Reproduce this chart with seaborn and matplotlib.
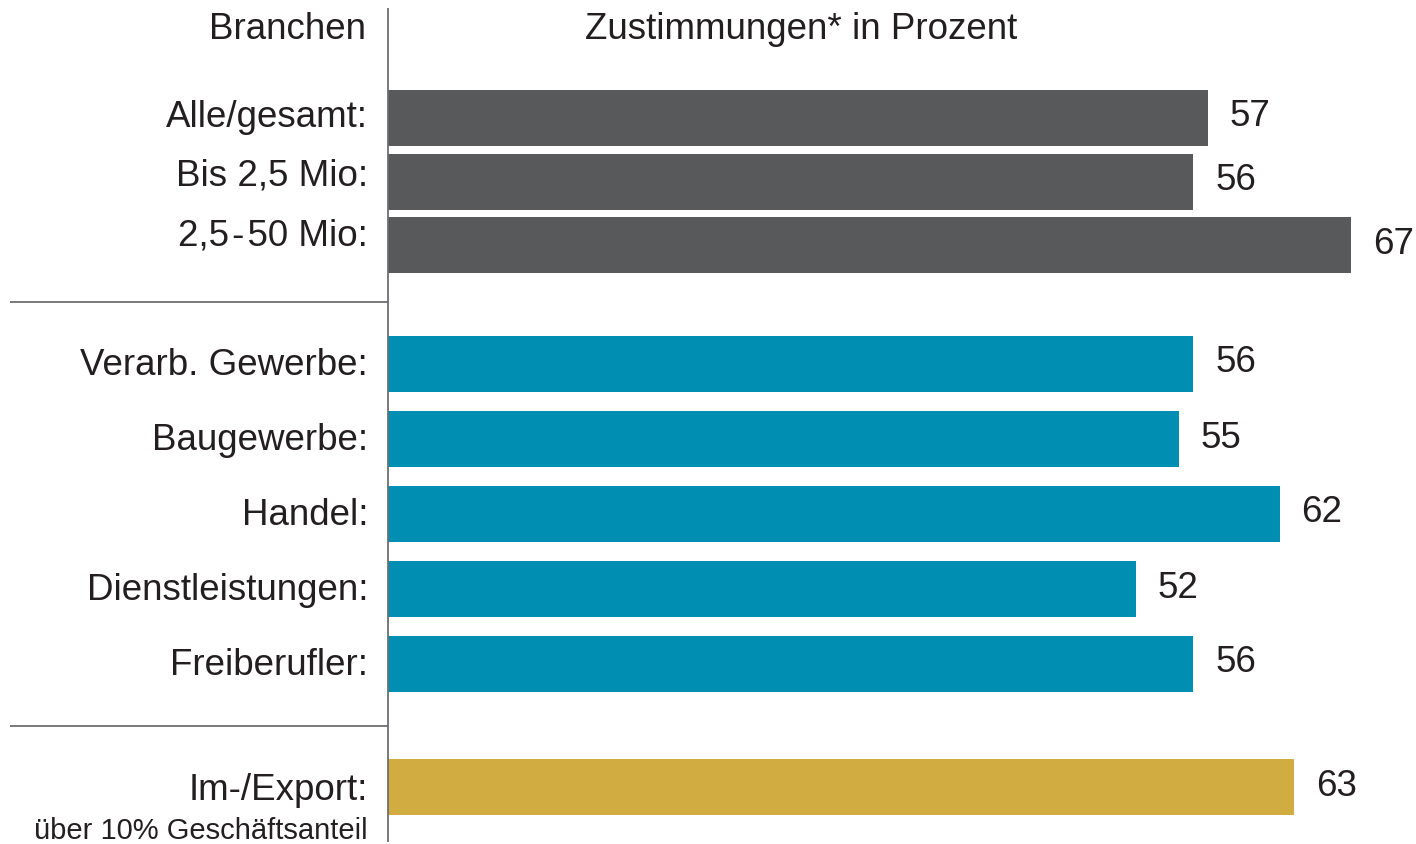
import pandas as pd
import seaborn as sns
import matplotlib.pyplot as plt

# data
labels = [
    "Alle/gesamt:",
    "Bis 2,5 Mio:",
    "2,5\u200a-\u200a50 Mio:",
    "Verarb. Gewerbe:",
    "Baugewerbe:",
    "Handel:",
    "Dienstleistungen:",
    "Freiberufler:",
    "Im-/Export:",
]
values = [57, 56, 67, 56, 55, 62, 52, 56, 63]
groups = ["gesamt"] * 3 + ["branche"] * 5 + ["export"]

header_left = "Branchen"
header_right = "Zustimmungen* in Prozent"
footnote = "über 10% Geschäftsanteil"

# layout in pixel rows (y grows downward)
row_pos = [118, 182, 245, 364, 439, 514, 589, 664, 787]
label_base = [127, 186, 246, 375, 450, 525, 600, 675, 800]
palette = {"gesamt": "#58595b", "branche": "#008fb3", "export": "#d1ac40"}

W, H = 1416, 844
x0 = 388  # pixel where bars start
px = 14.38  # pixels per percent
fs = 26.5
txt = "#231f20"
line_col = "#6d6e71"

df = pd.DataFrame({"label": labels, "value": values, "group": groups, "pos": row_pos})

sns.set_theme(style="white")
plt.rcParams["font.family"] = ["Liberation Sans", "DejaVu Sans"]

fig = plt.figure(figsize=(W / 100, H / 100), dpi=100)
ax = fig.add_axes([0, 0, 1, 1])

sns.barplot(
    data=df,
    x="value",
    y="pos",
    hue="group",
    palette=palette,
    orient="h",
    native_scale=True,
    dodge=False,
    width=56 / 63,
    saturation=1,
    linewidth=0,
    errorbar=None,
    legend=False,
    ax=ax,
)

ax.set_xlim(-x0 / px, (W - x0) / px)
ax.set_ylim(H, 0)
ax.axis("off")

# row labels
for lbl, base in zip(labels, label_base):
    ax.text(-20 / px, base, lbl, ha="right", va="baseline", fontsize=fs, color=txt)

# value labels
for v, p in zip(values, row_pos):
    ax.text(v + 22 / px, p + 8.5, str(v), ha="left", va="baseline", fontsize=fs, color=txt)

# headers and footnote
ax.text(-22 / px, 39, header_left, ha="right", va="baseline", fontsize=fs, color=txt)
ax.text((801 - x0) / px, 39, header_right, ha="center", va="baseline", fontsize=fs, color=txt)
ax.text(-20 / px, 839, footnote, ha="right", va="baseline", fontsize=21, color=txt)

# rules
ax.vlines(0, 8, 842, color=line_col, lw=1.3)
ax.hlines([302, 726], -378 / px, 0, color=line_col, lw=1.3)

fig.savefig("out.png", dpi=100)
plt.close(fig)
